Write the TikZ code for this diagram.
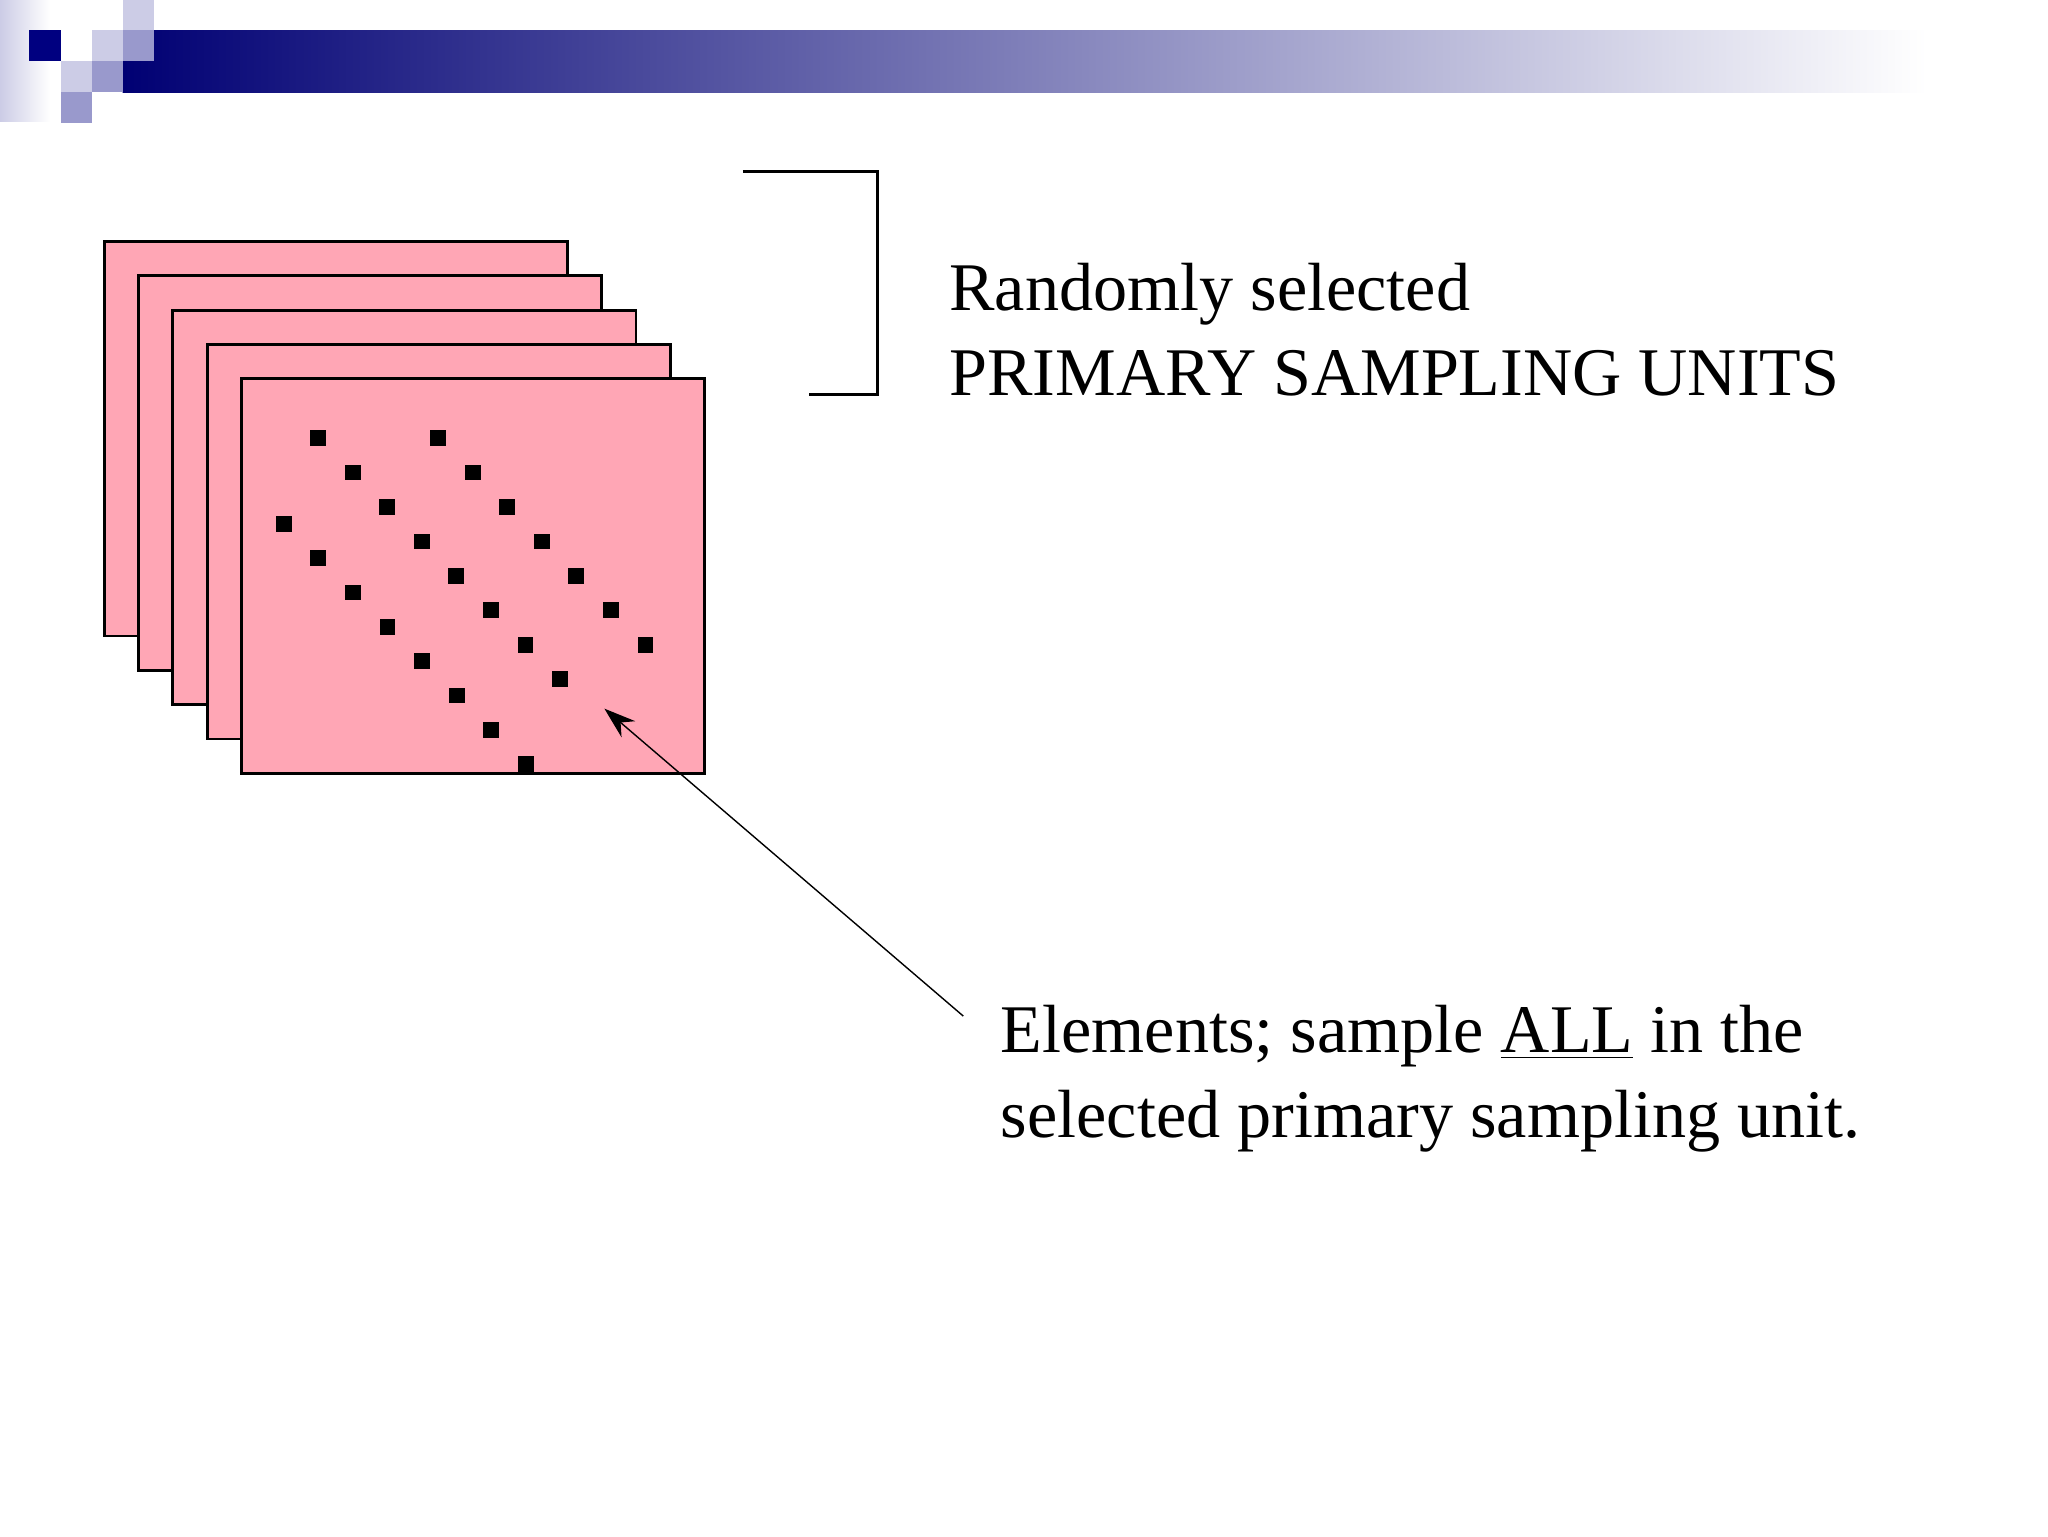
\documentclass[tikz,border=0pt]{standalone}
\usepackage{fontspec}
\setmainfont{Liberation Serif}
\usetikzlibrary{arrows.meta}
\definecolor{navy}{RGB}{0,0,128}
\definecolor{lav}{RGB}{204,204,230}
\definecolor{midlav}{RGB}{153,153,204}
\definecolor{psu}{RGB}{255,166,181}
\tikzset{
  unit/.style={draw=black,thick,fill=psu},
  elem/.style={fill=black},
  label/.style={anchor=base west,inner sep=0pt,font=\fontsize{19.4}{24.2}\selectfont,align=left}
}
\begin{document}
\begin{tikzpicture}[x=0.013196cm,y=-0.013196cm]
  \useasboundingbox (0,0) rectangle (1552,1164);
  % Kopfleiste
  \shade[left color=lav,right color=white] (0,0) rectangle (38,92);
  \shade[left color=navy!90!black,right color=white] (93,23) rectangle (1460,70);
  \fill[lav] (93,0) rectangle (117,23);
  \fill[lav] (70,23) rectangle (93,46);
  \fill[midlav] (93,23) rectangle (117,46);
  \fill[lav] (46,46) rectangle (70,70);
  \fill[midlav] (70,46) rectangle (93,70);
  \fill[midlav] (46,70) rectangle (70,93);
  \fill[navy] (22,23) rectangle (46,46);
  % Primaere Einheiten
  \foreach \i in {0,...,4}
    \draw[unit] (79+26*\i,183+26*\i) rectangle +(351,299);
  % Elemente
  \foreach \k in {0,...,7}
    \fill[elem] (241+26.2*\k,332+26.1*\k) +(-6,-6) rectangle +(6,6);
  \foreach \k in {0,...,6}
    \fill[elem] (332+26.2*\k,332+26.1*\k) +(-6,-6) rectangle +(6,6);
  \foreach \k in {0,...,7}
    \fill[elem] (215+26.2*\k,397+26*\k) +(-6,-6) rectangle +(6,6);
  % Klammer
  \coordinate (b1) at (563,130);
  \coordinate (b2) at (665,130);
  \coordinate (b3) at (665,299);
  \coordinate (b4) at (613,299);
  \draw[thick] (b1) -- (b2) -- (b3) -- (b4);
  % Beschriftung
  \node[label] (psu) at (719,300) {Randomly selected\\PRIMARY SAMPLING UNITS};
  \node[label] (el) at (758,862) {Elements; sample \underline{ALL} in the\\selected primary sampling unit.};
  \coordinate (tail) at (730,770);
  \coordinate (tip) at (458,537);
  \draw[-{Stealth[length=9pt,width=6pt]}] (tail) -- (tip);
\end{tikzpicture}
\end{document}
